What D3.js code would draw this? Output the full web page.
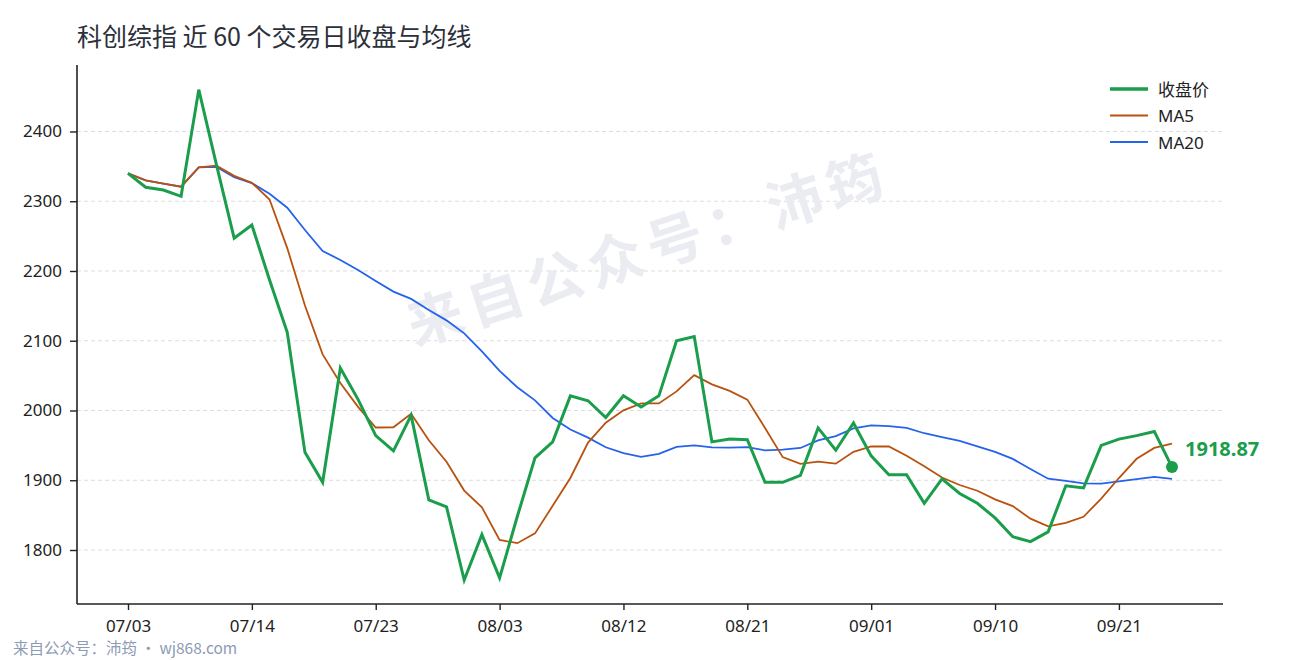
<!DOCTYPE html>
<html>
<head>
<meta charset="utf-8">
<script src="https://cdn.jsdelivr.net/npm/d3@7"></script>
<style>
  body { margin: 0; background: #fff; }
  text { font-family: "Noto Sans", "Noto Sans CJK SC", sans-serif; }
</style>
</head>
<body>
<div id="chart"></div>
<script>
// 60 trading days
const dates = [
  '07/03','07/06','07/07','07/08','07/09','07/10','07/13','07/14','07/15','07/16',
  '07/17','07/20','07/21','07/22','07/23','07/24','07/27','07/28','07/29','07/30',
  '07/31','08/03','08/04','08/05','08/06','08/07','08/10','08/11','08/12','08/13',
  '08/14','08/17','08/18','08/19','08/20','08/21','08/24','08/25','08/26','08/27',
  '08/28','08/31','09/01','09/02','09/03','09/04','09/07','09/08','09/09','09/10',
  '09/11','09/14','09/15','09/16','09/17','09/18','09/21','09/22','09/23','09/24'
];

const close = [
  2340, 2320, 2316, 2307, 2460, 2352, 2247, 2266, 2187, 2112,
  1940, 1897, 2061, 2016, 1964, 1942, 1993, 1872, 1862, 1757,
  1822, 1760, 1848, 1932, 1955, 2021, 2014, 1990, 2021, 2005,
  2021, 2100, 2106, 1955, 1959, 1958, 1897, 1897, 1907, 1975,
  1943, 1982, 1935, 1908, 1908, 1867, 1902, 1881, 1867, 1846,
  1819, 1812, 1826, 1892, 1889, 1950, 1959, 1964, 1970, 1918.87
];

const ma5 = [
  2340, 2330, 2325.3, 2320.8, 2348.6, 2351, 2336.4, 2326.4, 2302.4, 2232.8,
  2150.4, 2080.4, 2039.4, 2005.2, 1975.6, 1976, 1995.2, 1957.4, 1926.6, 1885.2,
  1861.2, 1814.6, 1809.8, 1823.8, 1863.4, 1903.2, 1954, 1982.4, 2000.2, 2010.2,
  2010.2, 2027.4, 2050.6, 2037.4, 2028.2, 2015.6, 1975, 1933.2, 1923.6, 1926.8,
  1923.8, 1940.8, 1948.4, 1948.6, 1935.2, 1920, 1904, 1893.2, 1885, 1872.6,
  1863, 1845, 1834, 1839, 1847.6, 1873.8, 1903.2, 1930.8, 1946.4, 1952.4
];

const ma20 = [
  2340, 2330, 2325.3, 2320.8, 2348.6, 2349.2, 2334.6, 2326, 2310.6, 2290.7,
  2258.8, 2228.7, 2215.8, 2201.5, 2185.7, 2170.4, 2160, 2144, 2129.2, 2110.6,
  2084.7, 2056.7, 2033.3, 2014.5, 1989.3, 1972.7, 1961.1, 1947.3, 1939, 1933.6,
  1937.7, 1947.8, 1950, 1947, 1946.8, 1947.6, 1942.8, 1944, 1946.3, 1957.2,
  1963.2, 1974.3, 1978.7, 1977.5, 1975.1, 1967.4, 1961.8, 1956.4, 1948.7, 1940.7,
  1930.6, 1916.2, 1902.2, 1899, 1895.6, 1895.2, 1898.3, 1901.6, 1904.8, 1901.9
];

const xTickIdx = [0, 7, 14, 21, 28, 35, 42, 49, 56];
const yTicks = [1800, 1900, 2000, 2100, 2200, 2300, 2400];

const seriesNames = ['收盘价', 'MA5', 'MA20'];
const seriesColors = ['#1a9e4b', '#b9520f', '#2563eb'];
const seriesWidths = [3, 1.8, 1.8];

const W = 1290, H = 660;
const plotL = 77, plotR = 1223, plotT = 65, plotB = 604;

const svg = d3.select('#chart').append('svg')
    .attr('width', W)
    .attr('height', H);

const x = d3.scaleLinear()
    .domain([-2.882, dates.length - 1 + 2.882])
    .range([plotL, plotR]);

const y = d3.scaleLinear()
    .domain([1722.6, 2495.3])
    .range([plotB, plotT]);

// title
svg.append('text')
    .attr('x', 77)
    .attr('y', 46)
    .style('font-family', '"Noto Sans CJK SC", "Noto Sans", sans-serif')
    .style('font-size', '25px')
    .style('fill', '#2b303b')
    .text('科创综指 近 60 个交易日收盘与均线');

// gridlines
svg.append('g')
    .selectAll('line')
    .data(yTicks)
    .enter().append('line')
    .attr('x1', plotL)
    .attr('x2', plotR)
    .attr('y1', d => y(d))
    .attr('y2', d => y(d))
    .attr('stroke', '#dddddd')
    .attr('stroke-width', 1)
    .attr('stroke-dasharray', '4,3');

// watermark (behind lines)
svg.append('text')
    .attr('transform', 'translate(647, 245) rotate(-18)')
    .attr('text-anchor', 'middle')
    .attr('dominant-baseline', 'central')
    .style('font-family', '"Noto Sans CJK SC", sans-serif')
    .style('font-size', '56px')
    .style('font-weight', 'bold')
    .style('letter-spacing', '7px')
    .style('fill', '#eaecf1')
    .text('来自公众号：沛筠');

// axes
const yAxis = svg.append('g')
    .attr('transform', `translate(${plotL},0)`)
    .call(d3.axisLeft(y).tickValues(yTicks).tickFormat(d3.format('d'))
        .tickSize(7).tickPadding(8).tickSizeOuter(0));

const xAxis = svg.append('g')
    .attr('transform', `translate(0,${plotB})`)
    .call(d3.axisBottom(x).tickValues(xTickIdx).tickFormat(i => dates[i])
        .tickSize(6).tickPadding(10).tickSizeOuter(0));

[yAxis, xAxis].forEach(ax => {
    ax.select('.domain').attr('stroke', '#222').attr('stroke-width', 1.6);
    ax.selectAll('.tick line').attr('stroke', '#222').attr('stroke-width', 1.4);
    ax.selectAll('.tick text')
        .style('font-family', '"Noto Sans", sans-serif')
        .style('font-size', '17px')
        .style('fill', '#222');
});
// spines cover the whole plot box
yAxis.select('.domain').attr('d', `M0,${plotT}V${plotB}`);
xAxis.select('.domain').attr('d', `M${plotL},0H${plotR}`);

// lines
const line = d3.line()
    .x((d, i) => x(i))
    .y(d => y(d));

const allSeries = [close, ma5, ma20];
// draw MA lines first, close on top
[2, 1, 0].forEach(k => {
    svg.append('path')
        .datum(allSeries[k])
        .attr('d', line)
        .attr('fill', 'none')
        .attr('stroke', seriesColors[k])
        .attr('stroke-width', seriesWidths[k])
        .attr('stroke-linejoin', 'miter')
        .attr('stroke-linecap', 'butt');
});

// last point marker
const last = close.length - 1;
svg.append('circle')
    .attr('cx', x(last))
    .attr('cy', y(close[last]))
    .attr('r', 6)
    .attr('fill', seriesColors[0]);

svg.append('text')
    .attr('x', x(last) + 13)
    .attr('y', y(close[last]) - 11)
    .style('font-family', '"Noto Sans", sans-serif')
    .style('font-size', '20px')
    .style('font-weight', 'bold')
    .style('fill', seriesColors[0])
    .text(close[last].toFixed(2));

// legend
const legend = svg.append('g').attr('transform', 'translate(1110, 89)');
seriesNames.forEach((name, k) => {
    const row = legend.append('g').attr('transform', `translate(0, ${k * 26.5})`);
    row.append('line')
        .attr('x1', 0).attr('x2', 38)
        .attr('y1', 0).attr('y2', 0)
        .attr('stroke', seriesColors[k])
        .attr('stroke-width', k === 0 ? 3.5 : 2);
    row.append('text')
        .attr('x', 48)
        .attr('y', 0)
        .attr('dominant-baseline', 'central')
        .style('font-family', '"Noto Sans", "Noto Sans CJK SC", sans-serif')
        .style('font-size', '17px')
        .style('fill', '#222')
        .text(name);
});

// footer
svg.append('text')
    .attr('x', 13)
    .attr('y', 654)
    .style('font-family', '"Noto Sans CJK SC", "Noto Sans", sans-serif')
    .style('font-size', '15.5px')
    .style('fill', '#8d9bb5')
    .text('来自公众号：沛筠 · wj868.com');
</script>
</body>
</html>
